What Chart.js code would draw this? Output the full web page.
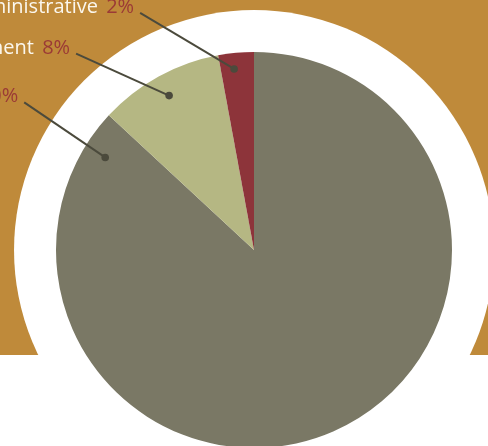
<!DOCTYPE html>
<html>
<head>
<meta charset="utf-8">
<script src="https://cdn.jsdelivr.net/npm/chart.js@4"></script>
<style>
  html, body { margin: 0; padding: 0; overflow: hidden; background: #fff; }
  #wrap { width: 488px; height: 448px; }
</style>
</head>
<body>
<div id="wrap"><canvas id="myChart"></canvas></div>
<script>
// data for chart
const categories = ["Programs", "Management", "Administrative"];
const shares = [86.9, 10.2, 2.9];
const labelNames = ["Programs ", "Management ", "Administrative "];
const labelPcts = ["90%", "8%", "2%"];

const colors = ["#7a7865", "#b5b783", "#8d343a"];

// where the dot sits inside each slice (fraction of angle, fraction of radius) and the leader direction
const dotSpots = [0.965, 0.5, 0.4];
const dotDepth = [0.885, 0.89, 0.92];
const leaders = [[-81, -55], [-93, -42], [-94, -56]];

// orange band + white disc behind the pie
const backdrop = {
    id: 'backdrop',
    beforeDraw(chart) {
        const ctx = chart.ctx;
        const arc = chart.getDatasetMeta(0).data[0];
        ctx.save();
        ctx.fillStyle = "#fff";
        ctx.fillRect(0, 0, chart.width, chart.height);
        ctx.fillStyle = "#bf8a3a";
        ctx.fillRect(0, 0, chart.width, 355);
        ctx.fillStyle = "#fff";
        ctx.beginPath();
        ctx.arc(arc.x, arc.y, arc.outerRadius * 1.212, 0, Math.PI * 2);
        ctx.fill();
        ctx.restore();
    }
};

// leader lines with dots and labels
const leaderLabels = {
    id: 'leaderLabels',
    afterDatasetsDraw(chart) {
        const ctx = chart.ctx;
        const meta = chart.getDatasetMeta(0);
        ctx.save();
        ctx.font = "20px 'Open Sans'";
        ctx.textBaseline = "alphabetic";
        meta.data.forEach(function(arc, i) {
            const a = arc.startAngle + (arc.endAngle - arc.startAngle) * dotSpots[i];
            const r = arc.outerRadius * dotDepth[i];
            const dx = arc.x + Math.cos(a) * r;
            const dy = arc.y + Math.sin(a) * r;
            const ex = dx + leaders[i][0];
            const ey = dy + leaders[i][1];
            ctx.strokeStyle = "#4b4a3c";
            ctx.lineWidth = 2;
            ctx.beginPath();
            ctx.moveTo(dx, dy);
            ctx.lineTo(ex, ey);
            ctx.stroke();
            ctx.fillStyle = "#4b4a3c";
            ctx.beginPath();
            ctx.arc(dx, dy, 3.8, 0, Math.PI * 2);
            ctx.fill();

            const tx = ex - 6;
            ctx.textAlign = "right";
            ctx.fillStyle = "#9b3a36";
            ctx.fillText(labelPcts[i], tx, ey);
            const w = ctx.measureText(labelPcts[i]).width;
            ctx.fillStyle = "#fbf7ee";
            ctx.fillText(labelNames[i], tx - w - 3, ey);
        });
        ctx.restore();
    }
};

const config = {
    type: 'pie',
    data: {
        labels: categories,
        datasets: [{
            data: shares,
            backgroundColor: colors,
            borderWidth: 0
        }]
    },
    options: {
        responsive: true,
        maintainAspectRatio: false,
        animation: false,
        layout: {
            padding: { left: 56, right: 36, top: 52, bottom: 0 }
        },
        plugins: {
            legend: { display: false },
            tooltip: { enabled: false },
            title: { display: false }
        }
    },
    plugins: [backdrop, leaderLabels]
};

const myChart = new Chart(document.getElementById('myChart'), config);
</script>
</body>
</html>
